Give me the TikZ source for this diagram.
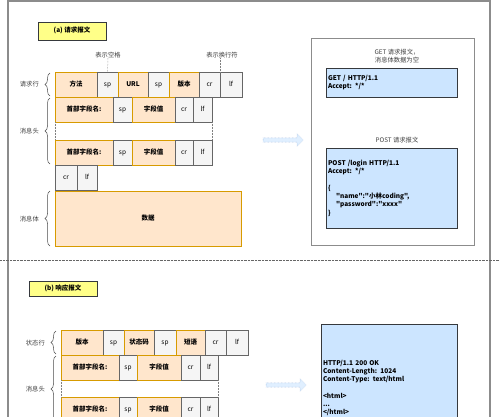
\documentclass[tikz,border=0pt]{standalone}
\usepackage{fontspec}
\newfontfamily\cjk{Noto Sans CJK SC}
\usetikzlibrary{
  positioning,
  decorations.pathreplacing,
  shapes.arrows
}
\definecolor{fieldfill}{HTML}{FFE6CC}
\definecolor{fielddraw}{HTML}{D79B00}
\definecolor{spacefill}{HTML}{F5F5F5}
\definecolor{spacedraw}{HTML}{666666}
\definecolor{titlefill}{HTML}{FFFF88}
\definecolor{codefill}{HTML}{CCE5FF}
\definecolor{darkline}{HTML}{36393D}
\definecolor{framegray}{HTML}{8C8C8C}
\definecolor{arrowblue}{HTML}{8FB0D8}
\tikzset{
  field/.style={draw=fielddraw, fill=fieldfill, line width=0.6pt,
    minimum height=25pt, inner sep=0pt, outer sep=0pt,
    text height=5pt, text depth=1.5pt,
    font=\cjk\fontsize{6.5}{7}\selectfont\bfseries},
  blank/.style={draw=spacedraw, fill=spacefill, line width=0.6pt,
    minimum height=25pt, inner sep=0pt, outer sep=0pt,
    text height=5pt, text depth=1.5pt,
    font=\cjk\fontsize{6.5}{7}\selectfont},
  titlebox/.style={draw=darkline, fill=titlefill, line width=0.6pt,
    minimum width=68pt, inner sep=0pt,
    text height=5pt, text depth=1.5pt,
    font=\cjk\fontsize{6.5}{7}\selectfont\bfseries},
  codebox/.style={draw=darkline, fill=codefill, line width=0.6pt,
    inner sep=1.5pt, align=left,
    font=\cjk\fontsize{6.5}{8.3}\selectfont\bfseries},
  side/.style={text=black!75, inner sep=0pt,
    font=\cjk\fontsize{6.3}{7}\selectfont},
  note/.style={text=black!75, inner sep=0pt, align=center,
    font=\cjk\fontsize{6.3}{8}\selectfont},
  curly/.style={decorate, decoration={brace, amplitude=5pt},
    draw=black!70, line width=0.5pt},
  gap/.style={densely dotted, draw=black!50, line width=0.5pt},
  blockarrow/.style={single arrow, draw=arrowblue, densely dotted,
    fill=codefill!60, minimum width=12pt, minimum height=40pt,
    single arrow head extend=3pt, single arrow head indent=0pt,
    inner sep=1.5pt}
}
\begin{document}
\begin{tikzpicture}[x=1pt, y=-1pt]
\useasboundingbox (0,0) rectangle (500,416);
\fill[white] (0,0) rectangle (500,416);
% frame and separator
\draw[framegray, line width=1.5pt] (8,440) -- (8,1) -- (490,1) -- (490,440);
\draw[densely dotted, black!60] (0,260) -- (500,260);

% (a) request
\node[titlebox, minimum height=18pt] (titlea) at (72,31) {(a)\ 请求报文};
\node[field, minimum width=42pt, anchor=north west] (rqa) at (55,72) {方法};
\node[blank, minimum width=21pt, right=0pt of rqa] (rqb) {sp};
\node[field, minimum width=30pt, right=0pt of rqb] (rqc) {URL};
\node[blank, minimum width=21pt, right=0pt of rqc] (rqd) {sp};
\node[field, minimum width=30pt, right=0pt of rqd] (rqe) {版本};
\node[blank, minimum width=21pt, right=0pt of rqe] (rqf) {cr};
\node[blank, minimum width=22pt, right=0pt of rqf] (rqg) {lf};

\node[field, minimum width=58pt, anchor=north west] (hda) at (55,97) {首部字段名:};
\node[blank, minimum width=19pt, right=0pt of hda] (hdb) {sp};
\node[field, minimum width=43pt, right=0pt of hdb] (hdc) {字段值};
\node[blank, minimum width=18pt, right=0pt of hdc] (hdd) {cr};
\node[blank, minimum width=19pt, right=0pt of hdd] (hde) {lf};

\node[field, minimum width=58pt, anchor=north west] (hfa) at (55,140) {首部字段名:};
\node[blank, minimum width=19pt, right=0pt of hfa] (hfb) {sp};
\node[field, minimum width=43pt, right=0pt of hfb] (hfc) {字段值};
\node[blank, minimum width=18pt, right=0pt of hfc] (hfd) {cr};
\node[blank, minimum width=19pt, right=0pt of hfd] (hfe) {lf};
\draw[gap] (hda.south west) -- (hfa.north west);
\draw[gap] (hde.south east) -- (hfe.north east);

\node[blank, minimum width=22pt, anchor=north west] (ena) at (55,165) {cr};
\node[blank, minimum width=20pt, right=0pt of ena] (enb) {lf};
\node[field, minimum width=186pt, minimum height=55pt, anchor=north west] (body) at (55,191) {数据};

\node[note] (lblsp) at (108,55) {表示空格};
\node[note] (lblnl) at (222,55) {表示换行符};
\draw[gap] (lblsp.south) -- (rqb.north);
\draw[gap] (lblnl.south -| rqf.north east) -- (rqf.north east);

\coordinate (ba1) at (50,96);  \coordinate (ba2) at (50,73);
\coordinate (ba3) at (50,164); \coordinate (ba4) at (50,98);
\coordinate (ba5) at (50,246); \coordinate (ba6) at (50,191);
\draw[curly] (ba1) -- (ba2);
\draw[curly] (ba3) -- (ba4);
\draw[curly] (ba5) -- (ba6);
\node[side, anchor=east] (sra) at (39,84) {请求行};
\node[side, anchor=east] (srb) at (39,131) {消息头};
\node[side, anchor=east] (src) at (39,219) {消息体};

\node[blockarrow] (arra) at (282,140) {};

\node[draw=black!45, line width=0.8pt, minimum width=163pt, minimum height=207pt] (examples) at (392.5,141.5) {};
\node[note] (gettitle) at (397,56) {GET 请求报文，\\消息体数据为空};
\node[codebox, minimum width=131pt, minimum height=29pt, text width=127pt] (getcode) at (391.5,82.5)
  {GET / HTTP/1.1\\Accept: */*};
\node[note] (posttitle) at (397,140) {POST 请求报文};
\node[codebox, minimum width=131pt, minimum height=80pt, text width=127pt] (postcode) at (391.5,188)
  {POST /login HTTP/1.1\\Accept: */*\\[8.3pt]\{\\
  \hspace*{8pt}"name":"小林coding",\\
  \hspace*{8pt}"password":"xxxx"\\\}};

% (b) response
\node[titlebox, minimum height=15pt] (titleb) at (63,288.5) {(b)\ 响应报文};
\node[field, minimum width=42pt, anchor=north west] (sta) at (61,330) {版本};
\node[blank, minimum width=21pt, right=0pt of sta] (stb) {sp};
\node[field, minimum width=30pt, right=0pt of stb] (stc) {状态码};
\node[blank, minimum width=22pt, right=0pt of stc] (std) {sp};
\node[field, minimum width=29pt, right=0pt of std] (ste) {短语};
\node[blank, minimum width=21pt, right=0pt of ste] (stf) {cr};
\node[blank, minimum width=22pt, right=0pt of stf] (stg) {lf};

\node[field, minimum width=58pt, anchor=north west] (rha) at (61,355) {首部字段名:};
\node[blank, minimum width=18pt, right=0pt of rha] (rhb) {sp};
\node[field, minimum width=44pt, right=0pt of rhb] (rhc) {字段值};
\node[blank, minimum width=19pt, right=0pt of rhc] (rhd) {cr};
\node[blank, minimum width=18pt, right=0pt of rhd] (rhe) {lf};

\node[field, minimum width=58pt, anchor=north west] (rka) at (61,397) {首部字段名:};
\node[blank, minimum width=18pt, right=0pt of rka] (rkb) {sp};
\node[field, minimum width=44pt, right=0pt of rkb] (rkc) {字段值};
\node[blank, minimum width=19pt, right=0pt of rkc] (rkd) {cr};
\node[blank, minimum width=18pt, right=0pt of rkd] (rke) {lf};
\draw[gap] (rha.south west) -- (rka.north west);
\draw[gap] (rhe.south east) -- (rke.north east);

\coordinate (bb1) at (56,354); \coordinate (bb2) at (56,331);
\coordinate (bb3) at (56,422); \coordinate (bb4) at (56,356);
\draw[curly] (bb1) -- (bb2);
\draw[curly] (bb3) -- (bb4);
\node[side, anchor=east] (ssa) at (45,343) {状态行};
\node[side, anchor=east] (ssb) at (45,389) {消息头};

\node[blockarrow] (arrb) at (285,385) {};

\node[codebox, minimum width=136pt, minimum height=128pt, text width=132pt] (respcode) at (389,388)
  {HTTP/1.1 200 OK\\Content-Length: 1024\\Content-Type: text/html\\[8.3pt]
  <html>\\...\\</html>};
\end{tikzpicture}
\end{document}
